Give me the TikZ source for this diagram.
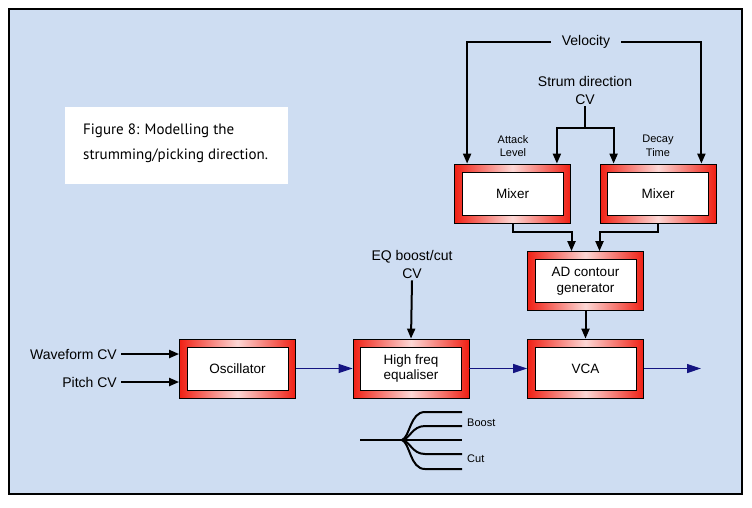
\documentclass[tikz,border=0pt]{standalone}
\usepackage{fontspec}
\setmainfont{Liberation Sans}
\newfontfamily\capfont{PT Sans}
\usetikzlibrary{arrows.meta,calc}
\definecolor{bgblue}{RGB}{206,221,242}
\definecolor{boxred}{RGB}{240,32,20}
\definecolor{navy}{RGB}{20,20,130}
\begin{document}
\begin{tikzpicture}[x=1pt,y=-1pt,
  redbox/.style={draw=black, line width=0.8pt, left color=boxred, right color=boxred, middle color=boxred!18!white, minimum width=116pt, minimum height=59pt, inner sep=0pt},
  inbox/.style={draw=black, line width=0.8pt, fill=white, minimum width=101pt, minimum height=43pt, inner sep=0pt, align=center, font=\fontsize{13.5}{16}\selectfont},
  lbl/.style={font=\fontsize{14}{18}\selectfont, align=center, inner sep=2pt},
  small/.style={font=\fontsize{11}{13.5}\selectfont, align=center, inner sep=1pt},
  wire/.style={line width=2pt, black},
  arr/.style={line width=2pt, black, -{Triangle[length=10pt,width=8pt]}},
  barr/.style={line width=1.2pt, navy, -{Triangle[length=14pt,width=9pt]}}
]
\useasboundingbox (0,0) rectangle (752,507);
\fill[white] (0,0) rectangle (752,507);
\draw[fill=bgblue, line width=1.2pt] (9,9) rectangle (742,494);

% caption
\node[fill=white, minimum width=223pt, minimum height=77pt, anchor=north west, inner sep=0pt] (capbox) at (65,107) {};
\node[anchor=north west, align=left, inner sep=0pt, font=\capfont\fontsize{15}{25}\selectfont] (cap) at (83,124) {Figure 8: Modelling the\\strumming/picking direction.};

% blocks
\node[redbox] (mix1) at (512.5,193.5) {};
\node[inbox] (mix1i) at (mix1) {Mixer};
\node[redbox] (mix2) at (658,193.5) {};
\node[inbox] (mix2i) at (mix2) {Mixer};
\node[redbox] (ad) at (585.5,281) {};
\node[inbox] (adi) at (ad) {AD contour\\generator};
\node[redbox] (osc) at (237.5,368.5) {};
\node[inbox] (osci) at (osc) {Oscillator};
\node[redbox] (hf) at (411,368.5) {};
\node[inbox] (hfi) at (hf) {High freq\\equaliser};
\node[redbox] (vca) at (585.5,368.5) {};
\node[inbox] (vcai) at (vca) {VCA};

% labels
\node[lbl, inner xsep=11pt] (vel) at (586,42) {Velocity};
\node[lbl] (strum) at (585,90) {Strum direction\\CV};
\node[small] (att) at (513,146) {Attack\\Level};
\node[small] (dec) at (658,146) {Decay\\Time};
\node[lbl] (eqcv) at (412,264) {EQ boost/cut\\CV};
\node[lbl, anchor=east, inner sep=4pt] (wf) at (121,354) {Waveform CV};
\node[lbl, anchor=east, inner sep=4pt] (pc) at (121,382) {Pitch CV};

% velocity
\draw[arr] (vel.west) -| ([xshift=13pt]mix1.north west);
\draw[arr] (vel.east) -| ([xshift=-15pt]mix2.north east);
% strum
\coordinate (sj) at (585,128);
\draw[wire] (strum.south) -- (sj);
\draw[arr] (sj) -| ([xshift=-14pt]mix1.north east);
\draw[arr] (sj) -| ([xshift=14pt]mix2.north west);
% mixers to AD
\draw[arr] (mix1.south) -- ++(0,9) -| ([xshift=-14pt]ad.north);
\draw[arr] (mix2.south) -- ++(0,9) -| ([xshift=14pt]ad.north);
% AD to VCA
\draw[arr] (ad.south) -- (vca.north);
% EQ
\draw[arr] (eqcv.south) -- (hf.north);
% inputs
\draw[arr] (wf.east) -- (osc.west |- wf.east);
\draw[arr] (pc.east) -- (osc.west |- pc.east);
% audio path
\coordinate (out) at (701,368.5);
\draw[barr] (osc.east) -- (hf.west);
\draw[barr] (hf.east) -- (vca.west);
\draw[barr] (vca.east) -- (out);

% boost/cut fan
\coordinate (fo) at (402,440);
\coordinate (fin) at (360,440);
\draw[line width=2.5pt] (fin) -- (fo);
\draw[wire] (fo) -- (462,440);
\draw[wire] (fo) .. controls (410,437) and (410,412) .. (425,412) -- (462,412);
\draw[wire] (fo) .. controls (410,439) and (412,426) .. (425,426) -- (462,426);
\draw[wire] (fo) .. controls (410,441) and (412,454) .. (425,454) -- (462,454);
\draw[wire] (fo) .. controls (410,443) and (410,469) .. (425,469) -- (462,469);
\node[small, anchor=west] (boost) at (466,423) {Boost};
\node[small, anchor=west] (cut) at (466,459) {Cut};
\end{tikzpicture}
\end{document}
